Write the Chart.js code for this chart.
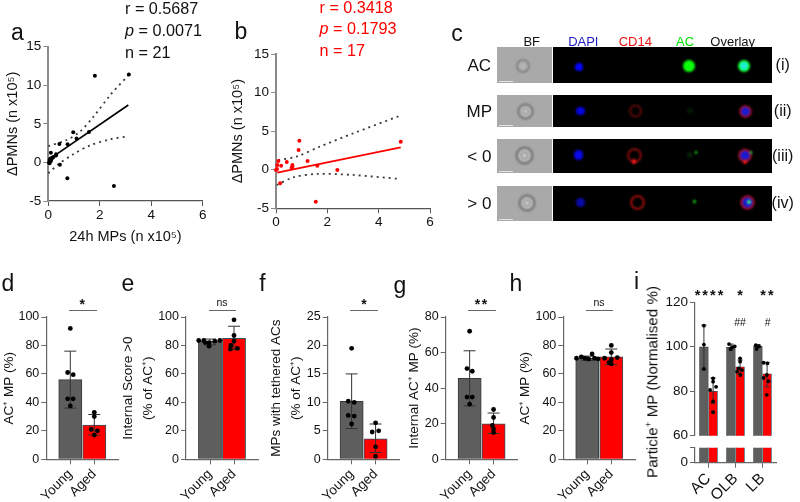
<!DOCTYPE html>
<html><head><meta charset="utf-8">
<script src="https://cdn.jsdelivr.net/npm/chart.js@4/dist/chart.umd.min.js"></script>
<style>
html,body{margin:0;padding:0;background:#fff;overflow:hidden}
#stage{position:relative;width:800px;height:502px;overflow:hidden;filter:blur(.35px);font-family:"Liberation Sans",Arial,sans-serif;color:#111}
canvas{position:absolute;left:0;top:0}
.t{position:absolute;white-space:nowrap;transform:translate(-50%,-50%);line-height:1}
.l{position:absolute;white-space:nowrap;transform:translate(0,-50%);line-height:1}
.b{position:absolute}
sup{font-size:65%;line-height:0}
</style></head><body><div id="stage"></div>
<script>
// ---------- data ----------
const groupLabels = ['Young','Aged'];
const particleLabels = ['AC','OLB','LB'];

const aPoints = [[1.81,11.24],[3.13,11.4],[2.55,-3.05],[0.74,-2.06],[0.45,-0.29],[0.43,2.39],[0.75,2.34],[0.97,3.9],[1.1,3.1],[1.58,3.94],[0.1,1.26],[0.3,1.05],[0.05,0.3],[0.08,0.5],[0.1,0.2],[0.03,0],[0.15,0.6],[0.2,0.7],[0.12,0.4],[0.05,-0.1],[0.3,0.9]];
const aLine = [[0.03,0.4],[3.11,7.44]];
const aUpper = [[0,2.1],[0.71,2.9],[1.23,4],[1.75,5.9],[2.4,8.7],[3.11,11.3]];
const aLower = [[0,-1.4],[0.45,-0.1],[0.97,1.05],[1.62,2.2],[2.4,3],[3.11,3.4]];

const bPoints = [[0.05,0.6],[0.09,1.13],[0.2,0.53],[0,-0.03],[0.04,0.1],[0.42,1],[0.64,0.6],[0.61,0.27],[0.64,0.4],[0.88,2.56],[0.91,3.77],[1.23,1.13],[1.61,0.53],[2.39,-0.03],[1.55,-4.14],[0.16,-1.76],[4.86,3.64]];
const bLine = [[0.05,-0.38],[4.86,2.9]];
const bUpper = [[0.09,1.26],[0.8,1.7],[1.71,3],[3,4.7],[4.83,7]];
const bLower = [[0.03,-1.98],[0.68,-0.98],[1.58,-0.55],[3,-0.68],[4.83,-1.2]];

const dMeans=[56,24], dLow=[36,17], dHigh=[76,31.5];
const dDots=[[1,92],[0.89,61],[1.12,59.5],[0.89,42.5],[1.12,42.5],[1,37.5],[2,33],[2,30],[1.87,21],[2.13,20],[2,17]];
const eMeans=[83,85], eLow=[80.5,77], eHigh=[84.5,93.5];
const eDots=[[0.53,83.5],[0.74,83.5],[0.96,82],[0.96,79.5],[1.2,83],[1.41,83.5],[0.8,82],[2,98],[2,87],[2,83],[1.87,80],[2.14,78],[1.85,77.5]];
const fMeans=[10.2,3.6], fLow=[5.4,1.2], fHigh=[15,6.2];
const fDots=[[1,19.5],[0.86,10.2],[1.11,10],[0.86,7.7],[1.11,7.6],[1,6.2],[2,6.4],[1.86,4.8],[2.13,5],[2,2.2],[2,0.5]];
const gMeans=[45.5,20], gLow=[30,14.5], gHigh=[61,26];
const gDots=[[1,72],[0.89,51],[1.11,49.5],[0.89,35],[1.11,35],[1,31],[2,28],[2,23.5],[1.95,19],[2,17],[2,15]];
const hMeans=[71,72], hLow=[69.5,66.5], hHigh=[72.5,77.5];
const hDots=[[0.55,71],[0.75,72],[0.9,71],[1.05,70.5],[1.2,74],[1.3,71],[1.45,70.5],[2,80],[2,75],[1.72,71],[2,70],[2.25,71.5],[2,67],[1.9,68]];

const iCentres=[0.33,0.67,1.33,1.67,2.33,2.67];
const iMeans=[100,80,99.8,91,100.2,87.8];
const iLow=[89.9,74.6,98.5,87.5,99.5,82];
const iHigh=[109.7,86,101.2,94,101,93];
const iDots=[[0.33,101],[0.33,109.5],[0.33,90],[0.67,85.8],[0.67,84.3],[0.78,82],[0.56,80.6],[0.67,75.4],[0.67,70.6],[1.26,101.2],[1.38,99.8],[1.32,99],[1.47,100.2],[1.67,94.8],[1.67,93.3],[1.62,90.3],[1.74,89.5],[1.56,88.8],[1.68,87.3],[2.25,100.7],[2.37,100.2],[2.28,99],[2.68,92.5],[2.54,92.8],[2.66,87.3],[2.72,84.5],[2.54,86],[2.66,78.4]];

// ---------- helpers ----------
const stage=document.getElementById('stage');
const FONT='"Liberation Sans",Arial,sans-serif';
const AX='#666', INK='#111';
const noPlugins={legend:{display:false},tooltip:{enabled:false},title:{display:false}};
const xy=a=>a.map(p=>({x:p[0],y:p[1]}));

function newCanvas(){const c=document.createElement('canvas');c.width=800;c.height=502;c.style.width='800px';c.style.height='502px';stage.appendChild(c);return c;}

function build(box,yAxis,xAxis,datasets){
  const yW = yAxis.width, xH = xAxis.height;
  const sX = {
    type:'linear',min:xAxis.min,max:xAxis.max,display:xAxis.display!==false,offset:false,
    border:{color:xAxis.color||AX,width:xAxis.bw||1.2},
    grid:{drawOnChartArea:false,drawTicks:true,tickLength:5,color:xAxis.color||AX,offset:false},
    ticks:{color:INK,autoSkip:false,padding:xAxis.pad||2,font:{family:FONT,size:xAxis.size||13.5},
      minRotation:xAxis.rot||0,maxRotation:xAxis.rot||0,
      callback:xAxis.cb},
    afterBuildTicks:s=>{s.ticks=xAxis.values.map(v=>({value:v}));},
    afterFit:s=>{s.height=xH;}
  };
  if(xAxis.title) sX.title={display:true,text:xAxis.title,color:INK,padding:0,font:{family:FONT,size:xAxis.titleSize||14.5,lineHeight:1.2}};
  const sY = {
    type:'linear',min:yAxis.min,max:yAxis.max,
    border:{color:yAxis.color||AX,width:yAxis.bw||1.2},
    grid:{drawOnChartArea:false,drawTicks:true,tickLength:5,color:yAxis.color||AX},
    ticks:{color:INK,autoSkip:false,padding:2,font:{family:FONT,size:yAxis.size||12.5},
      callback:yAxis.cb||(v=>String(v))},
    afterBuildTicks:s=>{s.ticks=yAxis.values.map(v=>({value:v}));},
    afterFit:s=>{s.width=yW;}
  };
  if(yAxis.title) sY.title={display:true,text:yAxis.title,color:INK,padding:0,font:{family:FONT,size:yAxis.titleSize||13.5,lineHeight:yAxis.lh||1.2}};
  new Chart(newCanvas(),{
    data:{datasets},
    options:{
      responsive:false,animation:false,devicePixelRatio:1,
      layout:{padding:{left:box.l-yW,top:box.t,right:800-box.r,bottom:502-box.b-xH}},
      plugins:noPlugins,
      scales:{x:sX,y:sY}
    }
  });
}
function range(a,b,s){const r=[];for(let v=a;v<=b+1e-9;v+=s)r.push(v);return r;}

function scatterPanel(box,titleX,pts,line,up,lo,col,xTitle){
  const size=14.5, lh=size*1.2;
  const ds=[
    {type:'scatter',data:xy(pts),pointRadius:2,pointBackgroundColor:col,pointBorderWidth:0,order:0,clip:false},
    {type:'line',data:xy(line),borderColor:col,borderWidth:1.7,pointRadius:0,order:1,clip:false},
    {type:'line',data:xy(up),borderColor:'#3a3a3a',borderWidth:1.8,borderDash:[2,4],tension:.3,pointRadius:0,order:2,clip:false},
    {type:'line',data:xy(lo),borderColor:'#3a3a3a',borderWidth:1.8,borderDash:[2,4],tension:.3,pointRadius:0,order:2,clip:false}
  ];
  build(box,
    {min:-5,max:15,values:[-5,0,5,10,15],width:box.l-(titleX-lh/2),title:'ΔPMNs (n x10⁵)',titleSize:size,size:13.5,color:'#8a8a8a',bw:2},
    {min:0,max:6,values:[0,2,4,6],height:xTitle?45:30,title:xTitle,size:13.5,color:'#555',bw:1.2,cb:v=>String(v),pad:1},
    ds);
}
function errorSets(xs,lows,highs,cap){
  return xs.map((x,i)=>({type:'line',data:[{x,y:lows[i]},{x,y:highs[i]}],borderColor:'#333',borderWidth:1,
    pointStyle:'line',pointRadius:cap,pointBorderColor:'#333',pointBorderWidth:1,order:1}));
}
const BAR_FILL=['#5e5e5e','#ff0000'], BAR_EDGE=['#3a3a3a','#2f5560'];

function barPanel(plotL,plotR,yMax,step,means,low,high,dots,title,titleX){
  const box={l:plotL,r:plotR,t:317,b:459.3};
  const size=13.5, lh=20/size, lhPx=20;
  const ds=[
    {type:'scatter',data:xy(dots),pointRadius:2.4,pointBackgroundColor:'#000',pointBorderWidth:0,order:0,clip:false},
    ...errorSets([1,2],low,high,6),
    {type:'bar',data:means.map((m,i)=>({x:i+1,y:m})),backgroundColor:BAR_FILL,borderColor:BAR_EDGE,borderWidth:1,barThickness:23.2,order:2}
  ];
  build(box,
    {min:0,max:yMax,values:range(0,yMax,step),width:plotL-(titleX-lhPx/2),title,titleSize:size,lh,size:12.5},
    {min:0,max:3,values:[1,2],height:42,rot:45,size:13.5,cb:v=>groupLabels[v-1]},
    ds);
}

// ---------- a, b ----------
scatterPanel({l:48.3,r:202.7,t:46.7,b:201},13,aPoints,aLine,aUpper,aLower,'#000','24h MPs (n x10⁵)');
scatterPanel({l:276,r:430,t:54,b:208.3},238.3,bPoints,bLine,bUpper,bLower,'#ff0000',null);

// ---------- d to h ----------
barPanel(46.3,118.3,100,20,dMeans,dLow,dHigh,dDots,'AC⁺ MP (%)',9.5);
barPanel(186,258,100,20,eMeans,eLow,eHigh,eDots,['Internal Score >0','(% of AC⁺)'],128);
barPanel(327.7,399.5,25,5,fMeans,fLow,fHigh,fDots,['MPs with tethered ACs','(% of AC⁺)'],276);
barPanel(445.7,517.5,80,20,gMeans,gLow,gHigh,gDots,'Internal AC⁺ MP (%)',414);
barPanel(563.3,635.3,100,20,hMeans,hLow,hHigh,hDots,'AC⁺ MP (%)',525);

// ---------- i (broken axis: two charts) ----------
const iBar={type:'bar',data:iCentres.map((x,i)=>({x,y:iMeans[i]})),
  backgroundColor:iCentres.map((_,i)=>BAR_FILL[i%2]),borderColor:iCentres.map((_,i)=>BAR_EDGE[i%2]),borderWidth:.8,barThickness:8.8,order:2};
build({l:695,r:776,t:302.3,b:435.7},
  {min:60,max:120,values:[60,80,100,120],width:40,size:13.5},
  {min:0,max:3,values:[],height:0,display:false},
  [{type:'scatter',data:xy(iDots),pointRadius:1.9,pointBackgroundColor:'#000',pointBorderWidth:0,order:0},
   ...errorSets(iCentres,iLow,iHigh,2.6),iBar]);
build({l:695,r:776,t:447.7,b:462.7},
  {min:0,max:10,values:[0,10],width:40,size:13.5,cb:v=>v===0?'0':''},
  {min:0,max:3,values:[0.5,1.5,2.5],height:40,rot:45,size:15.5,cb:v=>particleLabels[Math.floor(v)]},
  [Object.assign({},iBar,{data:iCentres.map((x,i)=>({x,y:iMeans[i]}))})]);

// ---------- free text ----------
function txt(s,x,y,size,opt={}){
  const d=document.createElement('div');d.className=opt.left?'l':'t';d.innerHTML=s;
  d.style.left=x+'px';d.style.top=y+'px';d.style.fontSize=size+'px';
  if(opt.color)d.style.color=opt.color;
  if(opt.bold)d.style.fontWeight='bold';
  if(opt.rot)d.style.transform='translate(-50%,-50%) rotate('+opt.rot+'deg)';
  if(opt.ls)d.style.letterSpacing=opt.ls+'px';
  stage.appendChild(d);
}
function rect(x,y,w,h,bg){
  const d=document.createElement('div');d.className='b';
  d.style.cssText+='left:'+x+'px;top:'+y+'px;width:'+w+'px;height:'+h+'px;background:'+bg+';';
  stage.appendChild(d);return d;
}
[['a',17.5,32],['b',241,31],['c',457,33],['d',8,283],['e',128,283],['f',262.5,283],['g',400,285],['h',516,283],['i',636.5,281]]
  .forEach(p=>txt(p[0],p[1],p[2],23));
['r = 0.5687','<i>p</i> = 0.0071','n = 21'].forEach((s,i)=>txt(s,125,8+22*i,16.2,{left:true}));
['r = 0.3418','<i>p</i> = 0.1793','n = 17'].forEach((s,i)=>txt(s,319.5,6.7+21.7*i,16.2,{left:true,color:'#ff0000'}));
[[69,96.7,83,'*'],[209,236,222,'ns'],[350,378,364.7,'*'],[467.7,495.7,481.7,'**'],[585.7,613.3,599,'ns']].forEach(s=>{
  rect(s[0],310,s[1]-s[0],1.4,'#666');
  if(s[3]==='ns')txt('ns',s[2],301.5,10.5);else txt(s[3],s[2],304,14,{ls:1.5,bold:true});
});
txt('Particle<sup>+</sup> MP (Normalised %)',652,382,15.2,{rot:-90});
txt('****',710,295,14.5,{ls:2,bold:true});txt('*',740,295,14.5,{bold:true});txt('**',768,295,14.5,{ls:2,bold:true});
txt('##',740,322,10.5);txt('#',767.7,322,10.5);

// ---------- c: image strip ----------
const rows=[[47.3,36,'AC','(i)'],[95.3,31.4,'MP','(ii)'],[138.7,34.6,'&lt; 0','(iii)'],[185.7,35.3,'&gt; 0','(iv)']];
rows.forEach(r=>{
  rect(497.3,r[0],55,r[1],'#a9a9a9');
  rect(552.7,r[0],219.6,r[1],'#000');
  rect(499,r[0]+r[1]-2,14,.8,'#e4e4e4');
  txt(r[2],479.3,r[0]+r[1]/2,17);
  txt(r[3],782.7,r[0]+r[1]/2,16);
});
[['BF',531.7,'#111'],['DAPI',583.3,'#1c1cc0'],['CD14',635.3,'#f01010'],['AC',685,'#00e000'],['Overlay',732.7,'#111']]
  .forEach(h=>txt(h[0],h[1],40.7,13,{color:h[2]}));
function blob(x,y,r,bg){
  const d=rect(x-r,y-r,2*r,2*r,bg);d.style.borderRadius='50%';d.style.filter='blur(.8px)';return d;
}
const bf='radial-gradient(circle closest-side,#cfcfcf 0 20%,#777 35%,#dedede 50%,#9a9a9a 68%,#5e5e5e 85%,#b0b0b0 100%)';
const ring=c=>'radial-gradient(circle closest-side,transparent 0 68%,'+c+' 80% 90%,transparent 100%)';
const ringOver='radial-gradient(circle closest-side,#1a1ad0 0 58%,#a01040 74%,#c01020 90%,transparent 100%)';
blob(522.7,65.7,7,bf);blob(579,66.7,4,'#0505ff');blob(689,65.7,6,'#0bff0b');
blob(744,65.7,6,'radial-gradient(circle closest-side,#20f0e0 0 45%,#10ff30 85%,#0bff0b 100%)');
blob(525,111,8.5,bf);blob(580.3,111,4.4,'#0505e0');blob(635.7,111,6.8,ring('#8a0c0c'));blob(745.7,111,6.5,ringOver);
blob(690,111,3,'#031803');
blob(524,155.7,9.5,bf);blob(578.3,155,4.8,'#0808e8');blob(634.3,155.7,7.4,ring('#b81010'));
blob(634,161.5,2.4,'#ff1818');blob(696,152.7,1.3,'#20ff20');blob(690,155,3,'#051f05');
blob(745,155.7,7.4,ringOver);blob(745,161.8,2,'#ff1818');blob(751,152.7,1.4,'#20ff60');
blob(526.7,203,9,bf);blob(580.7,202.3,4.6,'#0a0aa8');blob(637.3,202.7,7.4,ring('#d81010'));
blob(694.3,201.7,1.8,'#18f018');blob(747.7,202.3,7.4,ringOver);blob(749,201.5,2,'#40ff80');
</script></body></html>
